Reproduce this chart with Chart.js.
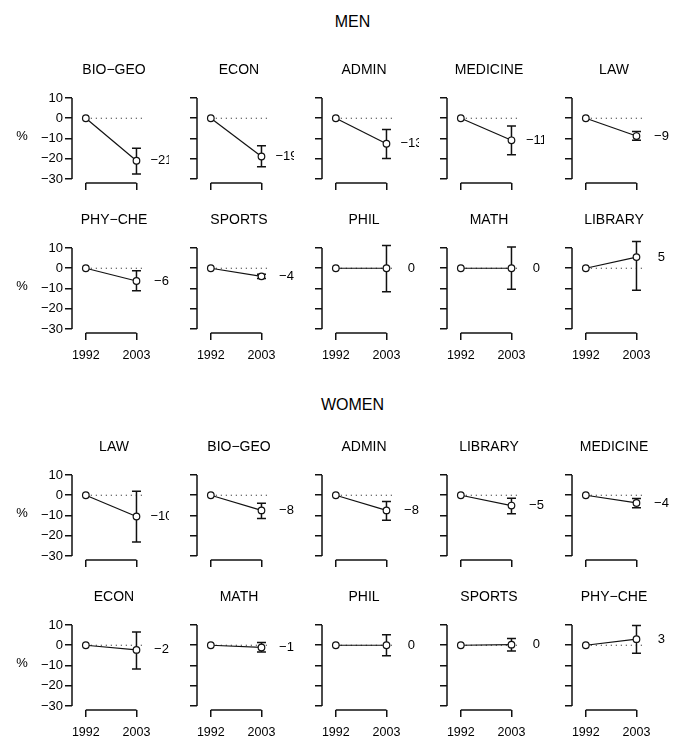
<!DOCTYPE html>
<html>
<head>
<meta charset="utf-8">
<script src="https://cdn.jsdelivr.net/npm/chart.js@4.4.1/dist/chart.umd.min.js"></script>
<style>
  body { margin: 0; background: #fff; }
  #wrap { position: relative; width: 685px; height: 753px; font-family: "Liberation Sans", Arial, sans-serif; }
  #wrap canvas { position: absolute; }
  .head { position: absolute; left: 0; width: 705px; text-align: center; font-size: 16px; line-height: 20px; color: #000; }
</style>
</head>
<body>
<div id="wrap">
  <div class="head" style="top:12px">MEN</div>
  <div class="head" style="top:395px">WOMEN</div>
</div>
<script>
const years = [1992, 2003];
const base1992 = 0;
const yTicks = [10, 0, -10, -20, -30];

const menCats = ['BIO\u2212GEO', 'ECON', 'ADMIN', 'MEDICINE', 'LAW', 'PHY\u2212CHE', 'SPORTS', 'PHIL', 'MATH', 'LIBRARY'];
const menChange = [-21, -18.9, -12.6, -10.9, -8.8, -6.3, -4.0, 0, 0, 5.5];
const menLow = [-27.5, -24.0, -19.9, -18.1, -10.9, -11.1, -5.1, -11.6, -10.4, -10.9];
const menHigh = [-14.8, -13.6, -5.6, -3.8, -6.6, -1.3, -3.0, 11.2, 10.5, 13.2];
const menLabels = [-21, -19, -13, -11, -9, -6, -4, 0, 0, 5];

const womenCats = ['LAW', 'BIO\u2212GEO', 'ADMIN', 'LIBRARY', 'MEDICINE', 'ECON', 'MATH', 'PHIL', 'SPORTS', 'PHY\u2212CHE'];
const womenChange = [-10.5, -7.5, -7.5, -5.1, -3.8, -2.3, -1.1, 0, 0.3, 3.0];
const womenLow = [-23.1, -11.5, -12.3, -9.2, -6.2, -11.8, -3.4, -5.2, -2.8, -3.9];
const womenHigh = [2.0, -3.9, -3.1, -1.5, -1.6, 6.6, 1.3, 5.2, 3.3, 9.8];
const womenLabels = [-10, -8, -8, -5, -4, -2, -1, 0, 0, 3];

// layout of the grid (page pixels)
const axisX = [72, 197, 322, 447, 572];
const menTops = [98, 248];
const womenTops = [475, 625];

const ink = '#111';
const fontFamily = '"Liberation Sans", Arial, sans-serif';

function fmt(v) {
  return v < 0 ? '\u2212' + Math.abs(v) : String(v);
}

const panelPlugin = {
  id: 'panel',
  beforeDatasetsDraw(chart, args, o) {
    const { ctx, chartArea, scales: { x, y } } = chart;
    ctx.save();
    ctx.strokeStyle = ink;
    ctx.lineWidth = 1.5;
    // y axis line, only from top tick to bottom tick
    ctx.beginPath();
    ctx.moveTo(chartArea.left, y.getPixelForValue(yTicks[0]));
    ctx.lineTo(chartArea.left, y.getPixelForValue(yTicks[yTicks.length - 1]));
    ctx.stroke();
    // x axis bracket between the two years
    ctx.beginPath();
    ctx.moveTo(x.getPixelForValue(years[0]), chartArea.bottom);
    ctx.lineTo(x.getPixelForValue(years[1]), chartArea.bottom);
    ctx.stroke();
    // dotted zero reference
    ctx.lineWidth = 1;
    ctx.setLineDash([1, 4]);
    ctx.beginPath();
    ctx.moveTo(x.getPixelForValue(years[0]), y.getPixelForValue(0));
    ctx.lineTo(chartArea.right, y.getPixelForValue(0));
    ctx.stroke();
    ctx.setLineDash([]);
    // error bar at 2003
    const xe = x.getPixelForValue(years[1]);
    const lo = y.getPixelForValue(o.low);
    const hi = y.getPixelForValue(o.high);
    ctx.lineWidth = 1.5;
    ctx.beginPath();
    ctx.moveTo(xe, lo); ctx.lineTo(xe, hi);
    ctx.moveTo(xe - 4.5, lo); ctx.lineTo(xe + 4.5, lo);
    ctx.moveTo(xe - 4.5, hi); ctx.lineTo(xe + 4.5, hi);
    ctx.stroke();
    ctx.restore();
  },
  afterDraw(chart, args, o) {
    const { ctx, chartArea, scales: { x, y } } = chart;
    ctx.save();
    ctx.fillStyle = '#000';
    ctx.textBaseline = 'middle';
    ctx.textAlign = 'center';
    ctx.font = '14px ' + fontFamily;
    ctx.fillText(o.title, chartArea.left + 42, y.getPixelForValue(yTicks[0]) - 28);
    ctx.font = '13px ' + fontFamily;
    ctx.fillText(fmt(o.label), x.getPixelForValue(years[1]) + 25, y.getPixelForValue(o.value));
    if (o.percent) {
      ctx.font = '13px ' + fontFamily;
      ctx.fillText('%', 22, y.getPixelForValue(-9));
    }
    ctx.restore();
  }
};

function makePanel(group, i) {
  const row = Math.floor(i / 5);
  const col = i % 5;
  const wrap = document.getElementById('wrap');
  const canvas = document.createElement('canvas');
  const w = col === 0 ? 169 : 129;
  const h = 152;
  canvas.width = w;
  canvas.height = h;
  canvas.style.left = (col === 0 ? 0 : axisX[col] - 32) + 'px';
  canvas.style.top = (group.tops[row] - 38) + 'px';
  canvas.style.width = w + 'px';
  canvas.style.height = h + 'px';
  wrap.appendChild(canvas);

  new Chart(canvas, {
    type: 'line',
    data: {
      datasets: [{
        data: [{ x: years[0], y: base1992 }, { x: years[1], y: group.change[i] }],
        borderColor: ink,
        borderWidth: 1.2,
        pointRadius: 3.3,
        pointBorderWidth: 1.2,
        pointBackgroundColor: '#fff',
        pointBorderColor: ink,
        clip: false
      }]
    },
    options: {
      responsive: false,
      animation: false,
      devicePixelRatio: 1,
      layout: { padding: { top: 38, bottom: 0, left: 0, right: 27 } },
      plugins: {
        legend: { display: false },
        tooltip: { enabled: false },
        panel: {
          title: group.cats[i],
          value: group.change[i],
          label: group.labels[i],
          low: group.low[i],
          high: group.high[i],
          percent: col === 0
        }
      },
      scales: {
        x: {
          type: 'linear',
          min: 1989,
          max: 2004.2,
          afterBuildTicks: s => { s.ticks = years.map(v => ({ value: v })); },
          afterFit: s => { s.height = 29; },
          border: { display: false },
          grid: { drawOnChartArea: false, drawTicks: true, tickLength: 7, color: ink, lineWidth: 1.5 },
          ticks: {
            display: row === 1,
            autoSkip: false,
            maxRotation: 0,
            minRotation: 0,
            padding: 8,
            color: '#000',
            font: { family: fontFamily, size: 12.5 },
            callback: v => String(v)
          }
        },
        y: {
          min: -32,
          max: 10,
          afterBuildTicks: s => { s.ticks = yTicks.map(v => ({ value: v })); },
          afterFit: s => { s.width = col === 0 ? 72 : 32; },
          border: { display: false },
          grid: { drawOnChartArea: false, drawTicks: true, tickLength: 7, color: ink, lineWidth: 1.5 },
          ticks: {
            display: col === 0,
            autoSkip: false,
            padding: 2,
            color: '#000',
            font: { family: fontFamily, size: 13 },
            callback: v => fmt(v)
          }
        }
      }
    },
    plugins: [panelPlugin]
  });
}

const groups = [
  { cats: menCats, change: menChange, low: menLow, high: menHigh, labels: menLabels, tops: menTops },
  { cats: womenCats, change: womenChange, low: womenLow, high: womenHigh, labels: womenLabels, tops: womenTops }
];

groups.forEach(g => {
  for (let i = 0; i < g.cats.length; i++) makePanel(g, i);
});
</script>
</body>
</html>
